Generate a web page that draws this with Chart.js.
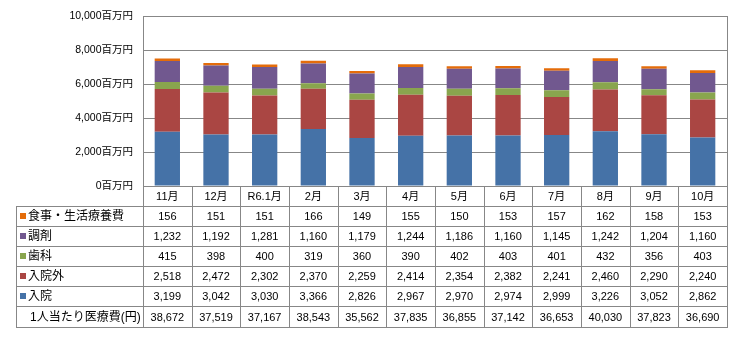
<!DOCTYPE html>
<html>
<head>
<meta charset="utf-8">
<script src="https://cdn.jsdelivr.net/npm/chart.js@4.4.1/dist/chart.umd.min.js"></script>
<style>
  html, body { margin: 0; padding: 0; background: #fff; }
  #wrap { position: relative; width: 733px; height: 340px; }
</style>
</head>
<body>
<div id="wrap"><canvas id="chart" width="733" height="340"></canvas></div>
<script>
"use strict";

// categories
var months = ["11月", "12月", "R6.1月", "2月", "3月", "4月", "5月", "6月", "7月", "8月", "9月", "10月"];

// series values (百万円)
var nyuin     = [3199, 3042, 3030, 3366, 2826, 2967, 2970, 2974, 2999, 3226, 3052, 2862];
var nyuinGai  = [2518, 2472, 2302, 2370, 2259, 2414, 2354, 2382, 2241, 2460, 2290, 2240];
var shika     = [415, 398, 400, 319, 360, 390, 402, 403, 401, 432, 356, 403];
var chozai    = [1232, 1192, 1281, 1160, 1179, 1244, 1186, 1160, 1145, 1242, 1204, 1160];
var shokuji   = [156, 151, 151, 166, 149, 155, 150, 153, 157, 162, 158, 153];

// 1人当たり医療費(円)
var perCapita = [38672, 37519, 37167, 38543, 35562, 37835, 36855, 37142, 36653, 40030, 37823, 36690];

// y axis ticks
var yTicks = [0, 2000, 4000, 6000, 8000, 10000];

var FONT = "'Liberation Sans', 'Noto Sans CJK JP', sans-serif";
var GRID = "#878787";

// table rows, top to bottom (stack order reversed)
var tableRows = [
    { label: "食事・生活療養費", color: "#E46C0A", values: shokuji },
    { label: "調剤", color: "#71588F", values: chozai },
    { label: "歯科", color: "#89A54E", values: shika },
    { label: "入院外", color: "#AA4643", values: nyuinGai },
    { label: "入院", color: "#4572A7", values: nyuin },
    { label: "1人当たり医療費(円)", color: null, values: perCapita }
];

function fmt(n) {
    return n.toLocaleString("en-US");
}

// draws the data table under the plot area
var dataTablePlugin = {
    id: "dataTable",
    afterDraw: function (chart) {
        var ctx = chart.ctx;
        var area = chart.chartArea;
        var xs = chart.scales.x;
        var n = months.length;
        var colW = (area.right - area.left) / n;
        var tableLeft = 16;
        var top = Math.round(area.bottom);
        var rowH = [20, 20, 20, 20, 20, 20, 21];
        var rowY = [top];
        rowH.forEach(function (h, i) { rowY.push(rowY[i] + h); });
        var bottom = rowY[rowY.length - 1];
        var L = Math.round(area.left), R = Math.round(area.right);

        ctx.save();
        ctx.strokeStyle = GRID;
        ctx.lineWidth = 1;
        ctx.beginPath();
        // outer verticals of plot + table
        ctx.moveTo(L + 0.5, Math.round(area.top));
        ctx.lineTo(L + 0.5, bottom);
        ctx.moveTo(R + 0.5, Math.round(area.top));
        ctx.lineTo(R + 0.5, bottom);
        // column separators
        for (var c = 1; c < n; c++) {
            var x = Math.round(area.left + c * colW) + 0.5;
            ctx.moveTo(x, top);
            ctx.lineTo(x, bottom);
        }
        // row lines
        for (var r = 1; r < rowY.length; r++) {
            ctx.moveTo(tableLeft, rowY[r] + 0.5);
            ctx.lineTo(R + 1, rowY[r] + 0.5);
        }
        // left edge of label column
        ctx.moveTo(tableLeft + 0.5, rowY[1]);
        ctx.lineTo(tableLeft + 0.5, bottom);
        ctx.stroke();

        ctx.fillStyle = "#000";
        ctx.font = "11px " + FONT;
        ctx.textBaseline = "middle";
        ctx.textAlign = "center";

        // header row: months
        months.forEach(function (m, i) {
            ctx.fillText(m, xs.getPixelForValue(i), rowY[0] + rowH[0] / 2 + 1);
        });

        tableRows.forEach(function (row, ri) {
            var cy = rowY[ri + 1] + rowH[ri + 1] / 2 + 1;
            ctx.textAlign = "left";
            if (row.color) {
                ctx.fillStyle = row.color;
                ctx.fillRect(20, Math.round(cy) - 4, 6, 6);
                ctx.fillStyle = "#000";
                ctx.font = "12px " + FONT;
                ctx.fillText(row.label, 28, cy);
            } else {
                ctx.font = "12px " + FONT;
                ctx.fillText(row.label, 30, cy);
            }
            ctx.font = "11px " + FONT;
            ctx.textAlign = "center";
            row.values.forEach(function (v, i) {
                ctx.fillText(fmt(v), xs.getPixelForValue(i), cy);
            });
        });
        ctx.restore();
    }
};

function makeSet(label, data, color) {
    return {
        label: label,
        data: data,
        backgroundColor: color,
        borderWidth: 0,
        barPercentage: 0.52,
        categoryPercentage: 1.0
    };
}

var ctx = document.getElementById("chart").getContext("2d");
var chart = new Chart(ctx, {
    type: "bar",
    data: {
        labels: months,
        datasets: [
            makeSet("入院", nyuin, "#4572A7"),
            makeSet("入院外", nyuinGai, "#AA4643"),
            makeSet("歯科", shika, "#89A54E"),
            makeSet("調剤", chozai, "#71588F"),
            makeSet("食事・生活療養費", shokuji, "#E46C0A")
        ]
    },
    options: {
        responsive: false,
        animation: false,
        events: [],
        layout: { padding: { top: 10, right: 6, bottom: 154, left: 0 } },
        plugins: {
            legend: { display: false },
            tooltip: { enabled: false }
        },
        scales: {
            x: {
                stacked: true,
                display: false
            },
            y: {
                stacked: true,
                min: 0,
                max: 10000,
                afterBuildTicks: function (scale) {
                    scale.ticks = yTicks.map(function (v) { return { value: v }; });
                },
                afterFit: function (scale) {
                    scale.width = 143;
                },
                border: { display: false },
                grid: { color: GRID, drawTicks: false, lineWidth: 1 },
                ticks: {
                    padding: 10,
                    color: "#000",
                    font: { family: FONT, size: 10.5 },
                    callback: function (v) { return fmt(v) + "百万円"; }
                }
            }
        }
    },
    plugins: [dataTablePlugin]
});
</script>
</body>
</html>
